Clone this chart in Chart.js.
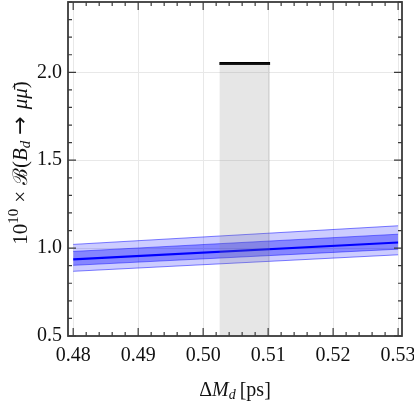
<!DOCTYPE html>
<html>
<head>
<meta charset="utf-8">
<script src="https://cdn.jsdelivr.net/npm/chart.js@4"></script>
<style>
  html, body { margin: 0; padding: 0; background: #fff; }
  #wrap { width: 414px; height: 408px; }
</style>
</head>
<body>
<div id="wrap"><canvas id="myChart" width="414" height="408"></canvas></div>
<script>
// values
const dmGrid = [0.48, 0.53];            // Delta M_d [ps]
const brCentral = [0.936, 1.032];
const brInnerLow = [0.902, 0.994];
const brInnerHigh = [0.981, 1.079];
const brOuterLow = [0.868, 0.962];
const brOuterHigh = [1.021, 1.127];
const dmExpRange = [0.5025, 0.5103];     // measured Delta M_d band
const brExpTop = 2.05;                   // black bar on top of the grey band
const xTickLabels = [0.48, 0.49, 0.50, 0.51, 0.52, 0.53];
const yTickLabels = [0.5, 1.0, 1.5, 2.0];

const pts = ys => dmGrid.map((x, i) => ({ x: x, y: ys[i] }));
const expPts = dmExpRange.map(x => ({ x: x, y: brExpTop }));

const serif = '"Liberation Serif", "DejaVu Serif", serif';

// frame + inward ticks, like the original plot
const frameTicks = {
  id: 'frameTicks',
  afterDatasetsDraw(chart) {
    const { ctx, chartArea: a, scales: { x, y } } = chart;
    ctx.save();
    ctx.strokeStyle = '#3a3a3a';
    ctx.lineWidth = 1.2;
    const tick = (px, len, vert) => {
      ctx.beginPath();
      if (vert) {
        ctx.moveTo(px, a.bottom); ctx.lineTo(px, a.bottom - len);
        ctx.moveTo(px, a.top); ctx.lineTo(px, a.top + len);
      } else {
        ctx.moveTo(a.left, px); ctx.lineTo(a.left + len, px);
        ctx.moveTo(a.right, px); ctx.lineTo(a.right - len, px);
      }
      ctx.stroke();
    };
    for (let i = 0; i <= 25; i++) {
      const v = 0.48 + i * 0.002;
      tick(x.getPixelForValue(v), i % 5 === 0 ? 8 : 4, true);
    }
    for (let i = 0; i <= 19; i++) {
      const v = 0.5 + i * 0.1;
      tick(y.getPixelForValue(v), i % 5 === 0 ? 8 : 4, false);
    }
    ctx.lineWidth = 1.8;
    ctx.strokeRect(a.left, a.top, a.right - a.left, a.bottom - a.top);
    ctx.restore();
  }
};

// draws a run of text pieces (sub/superscripts, italics)
function drawPieces(ctx, pieces, cx, cy) {
  const fontOf = p => (p.it ? 'italic ' : '') + (p.size || 20) + 'px ' + (p.fam || serif);
  let total = 0;
  pieces.forEach(p => { ctx.font = fontOf(p); p.w = ctx.measureText(p.t).width + (p.gap || 0) + (p.pre || 0); total += p.w; });
  let xx = cx - total / 2;
  ctx.textBaseline = 'alphabetic';
  ctx.textAlign = 'left';
  pieces.forEach(p => {
    ctx.font = fontOf(p);
    ctx.fillText(p.t, xx + (p.pre || 0), cy + (p.dy || 0));
    xx += p.w;
  });
}

const axisTitles = {
  id: 'axisTitles',
  afterDraw(chart) {
    const { ctx, chartArea: a } = chart;
    ctx.save();
    ctx.fillStyle = '#111';
    drawPieces(ctx, [
      { t: 'Δ' }, { t: 'M', it: true }, { t: 'd', it: true, size: 14, dy: 3, gap: 4 },
      { t: '[ps]' }
    ], (a.left + a.right) / 2, 396);
    ctx.translate(27, 163);
    ctx.rotate(-Math.PI / 2);
    drawPieces(ctx, [
      { t: '10', size: 21 }, { t: '10', size: 15, dy: -9, gap: 6 }, { t: '×', size: 21, gap: 6 },
      { t: 'ℬ', fam: '"DejaVu Serif", serif', size: 20 }, { t: '(', size: 21 }, { t: 'B', it: true, size: 21 },
      { t: 'd', it: true, size: 15, dy: 3, gap: 6 },
      { t: '→', fam: '"DejaVu Sans", sans-serif', size: 22, gap: 7 },
      { t: 'μμ̄', it: true, size: 21 }, { t: ')', size: 21 }
    ], 0, 0);
    ctx.restore();
  }
};

const ctx = document.getElementById('myChart');

new Chart(ctx, {
  type: 'line',
  data: {
    datasets: [
      { // grey band drawn on top of the blue ones
        data: expPts, fill: 'origin', borderWidth: 0, pointRadius: 0,
        backgroundColor: 'rgba(128,128,128,0.2)'
      },
      {
        data: expPts, fill: false, borderColor: '#000', borderWidth: 3, pointRadius: 0
      },
      {
        data: pts(brCentral), fill: false, borderColor: '#0000ff', borderWidth: 2.2, pointRadius: 0
      },
      {
        data: pts(brInnerHigh), fill: 4, borderColor: 'rgba(0,0,255,0.45)', borderWidth: 1,
        backgroundColor: 'rgba(0,0,255,0.35)', pointRadius: 0
      },
      {
        data: pts(brInnerLow), fill: false, borderColor: 'rgba(0,0,255,0.45)', borderWidth: 1, pointRadius: 0
      },
      {
        data: pts(brOuterHigh), fill: 6, borderColor: 'rgba(0,0,255,0.5)', borderWidth: 1,
        backgroundColor: 'rgba(0,0,255,0.2)', pointRadius: 0
      },
      {
        data: pts(brOuterLow), fill: false, borderColor: 'rgba(0,0,255,0.5)', borderWidth: 1, pointRadius: 0
      }
    ]
  },
  options: {
    responsive: false,
    animation: false,
    layout: { padding: { left: 0, top: 2, right: 12, bottom: 0 } },
    plugins: { legend: { display: false }, tooltip: { enabled: false } },
    scales: {
      x: {
        type: 'linear', min: 0.4792, max: 0.5306,
        afterBuildTicks: s => { s.ticks = xTickLabels.map(v => ({ value: v })); },
        afterFit: s => { s.height = 72; s.paddingLeft = 0; s.paddingRight = 0; },
        border: { display: false },
        grid: { color: '#e8e8e8', drawTicks: false },
        ticks: {
          padding: 8, color: '#111', font: { family: serif, size: 20 },
          callback: v => v.toFixed(2)
        }
      },
      y: {
        min: 0.5, max: 2.4,
        afterBuildTicks: s => { s.ticks = yTickLabels.map(v => ({ value: v })); },
        afterFit: s => { s.width = 68; s.paddingTop = 0; s.paddingBottom = 0; },
        border: { display: false },
        grid: { color: '#e8e8e8', drawTicks: false },
        ticks: {
          padding: 6, color: '#111', font: { family: serif, size: 20 },
          callback: v => v.toFixed(1)
        }
      }
    }
  },
  plugins: [frameTicks, axisTitles]
});
</script>
</body>
</html>
